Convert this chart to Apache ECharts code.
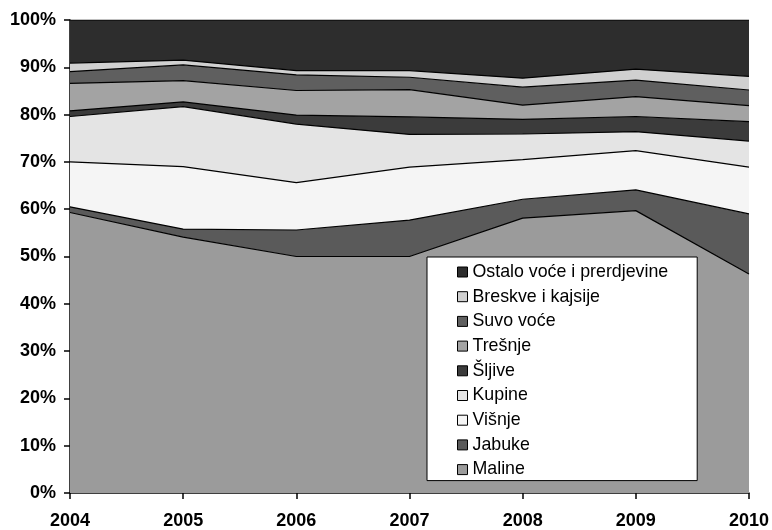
<!DOCTYPE html>
<html>
<head>
<meta charset="utf-8">
<script src="https://cdn.jsdelivr.net/npm/echarts@6/dist/echarts.min.js"></script>
<style>
  html, body { margin: 0; padding: 0; background: #fff; }
  #chart { width: 772px; height: 530px; }
</style>
</head>
<body>
<div id="chart"></div>
<script>
// godine
const years = ['2004', '2005', '2006', '2007', '2008', '2009', '2010'];

// udeo u %, po vrstama (odozdo nagore)
const maline = [59.3, 54.1, 50.0, 50.0, 58.1, 59.7, 46.3];
const jabuke = [1.2, 1.7, 5.6, 7.7, 4.0, 4.4, 12.7];
const visnje = [9.5, 13.2, 10.0, 11.2, 8.4, 8.3, 9.9];
const kupine = [9.6, 12.7, 12.4, 6.9, 5.4, 4.0, 5.5];
const sljive = [1.2, 1.0, 1.9, 3.7, 3.1, 3.2, 4.1];
const tresnje = [5.8, 4.5, 5.2, 5.8, 3.0, 4.2, 3.4];
const suvoVoce = [2.5, 3.3, 3.3, 2.6, 3.8, 3.5, 3.3];
const breskve = [1.8, 1.0, 0.9, 1.4, 1.9, 2.3, 2.9];
const ostalo = [9.1, 8.5, 10.7, 10.7, 12.3, 10.4, 11.9];

const names = ['Maline', 'Jabuke', 'Višnje', 'Kupine', 'Šljive', 'Trešnje', 'Suvo voće', 'Breskve i kajsije', 'Ostalo voće i prerdjevine'];
const values = [maline, jabuke, visnje, kupine, sljive, tresnje, suvoVoce, breskve, ostalo];
const colors = ['#9b9b9b', '#5a5a5a', '#f5f5f5', '#e4e4e4', '#3b3b3b', '#a3a3a3', '#5f5f5f', '#d0d0d0', '#2d2d2d'];

const myChart = echarts.init(document.getElementById('chart'), null, { renderer: 'canvas' });

let series = [];
for (let i = 0; i < names.length; i++) {
  series.push({
    name: names[i],
    type: 'line',
    stack: 'total',
    symbol: 'none',
    lineStyle: { color: '#000', width: 1.2 },
    areaStyle: { color: colors[i], opacity: 1 },
    itemStyle: { color: colors[i] },
    data: values[i]
  });
}

myChart.setOption({
  animation: false,
  textStyle: { fontFamily: 'Liberation Sans, Arial, sans-serif' },
  grid: { left: 70, right: 23, top: 20, bottom: 37 },
  legend: {
    orient: 'vertical',
    left: 427,
    top: 257,
    padding: [6, 29, 2, 30],
    itemGap: 6.7,
    itemWidth: 10,
    itemHeight: 10,
    icon: 'rect',
    backgroundColor: '#fff',
    borderColor: '#000',
    borderWidth: 1,
    itemStyle: { borderColor: '#000', borderWidth: 1 },
    textStyle: { color: '#000', fontSize: 17.8, lineHeight: 18, fontFamily: 'Liberation Sans, Arial, sans-serif' },
    data: names.slice().reverse()
  },
  xAxis: {
    type: 'category',
    boundaryGap: false,
    data: years,
    axisLine: { lineStyle: { color: '#000', width: 1.5 } },
    axisTick: { show: true, length: 6, lineStyle: { color: '#000', width: 1.5 } },
    axisLabel: { color: '#000', fontWeight: 'bold', fontSize: 18, margin: 19, interval: 0 },
    splitLine: { show: false }
  },
  yAxis: {
    type: 'value',
    min: 0,
    max: 100,
    interval: 10,
    axisLine: { show: true, lineStyle: { color: '#000', width: 1.5 } },
    axisTick: { show: true, length: 6, lineStyle: { color: '#000', width: 1.5 } },
    axisLabel: { color: '#000', fontWeight: 'bold', fontSize: 18, margin: 14, formatter: '{value}%' },
    splitLine: { show: false }
  },
  series: series
});
</script>
</body>
</html>
